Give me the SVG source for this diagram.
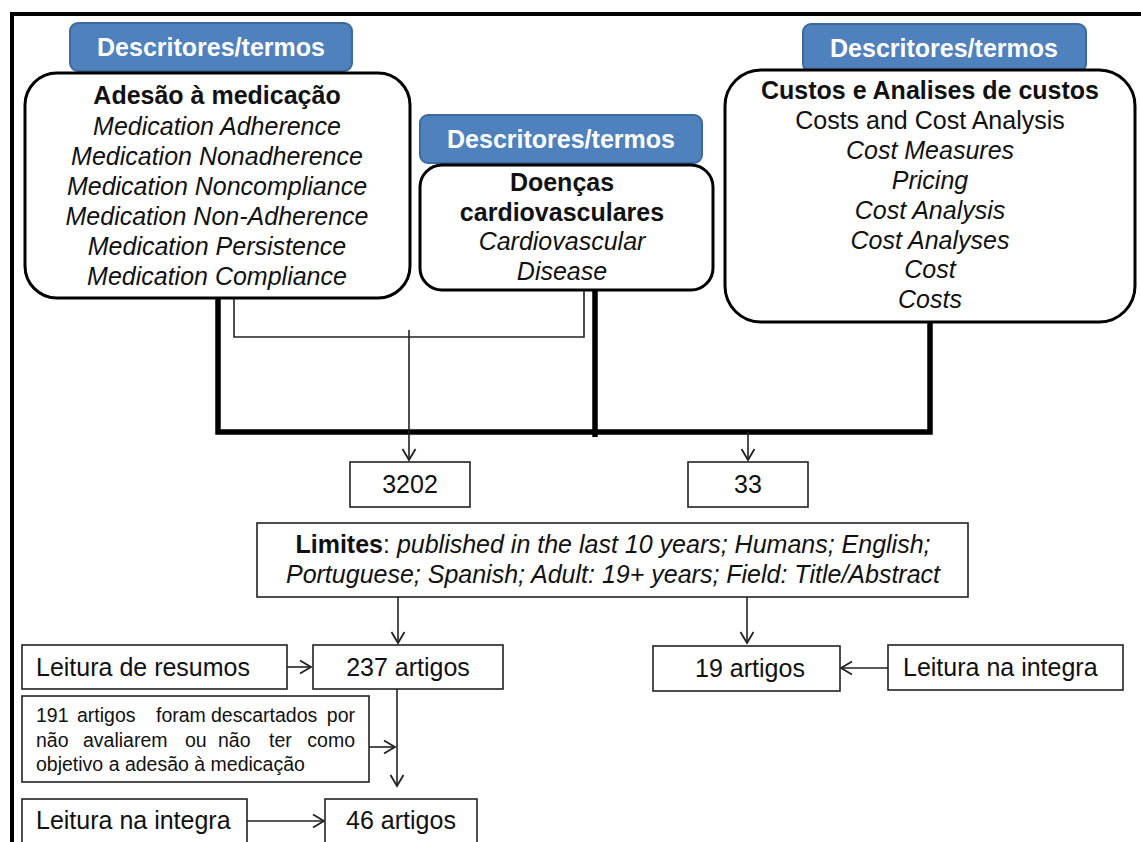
<svg xmlns="http://www.w3.org/2000/svg" width="1141" height="842" viewBox="0 0 1141 842">
<defs>
<style>
text{font-family:"Liberation Sans",Arial,sans-serif;fill:#111;}
.t{font-size:25px;}
.c{text-anchor:middle;}
.b{font-weight:bold;}
.i{font-style:italic;}
.s{font-size:19.5px;}
.tab{fill:#4F81BD;stroke:#3C6A9E;stroke-width:2;}
.tabt{fill:#fff;font-weight:bold;font-size:25px;text-anchor:middle;}
.rbox{fill:#fff;stroke:#000;stroke-width:3;}
.box{fill:#fff;stroke:#222;stroke-width:1.6;}
.thick{fill:none;stroke:#000;stroke-width:5.5;stroke-linejoin:miter;}
.thin{fill:none;stroke:#222;stroke-width:1.6;}
.arr{fill:none;stroke:#222;stroke-width:1.6;marker-end:url(#ah);}
</style>
<marker id="ah" viewBox="-13 -8 15 16" refX="0" refY="0" markerWidth="15" markerHeight="16" markerUnits="userSpaceOnUse" orient="auto">
<path d="M-11,-6.5 L0,0 L-11,6.5" fill="none" stroke="#222" stroke-width="1.8"/>
</marker>
</defs>
<rect x="0" y="0" width="1141" height="842" fill="#fff"/>
<path d="M12,844 V14 H1143" fill="none" stroke="#000" stroke-width="4"/>

<g id="connectors">
<path class="thin" d="M234,298 V337 H584 V290"/>
<path class="thick" d="M218,298 V432 H930 V322"/>
<path class="thick" d="M595,290 V437"/>
<path class="arr" d="M409,330 V460"/>
<path class="arr" d="M748,432 V460"/>
<path class="arr" d="M398,597 V643"/>
<path class="arr" d="M747,597 V643"/>
<path class="arr" d="M287,667 H311"/>
<path class="arr" d="M397,689 V786"/>
<path class="arr" d="M369,747 H395"/>
<path class="arr" d="M247,821 H324"/>
<path class="arr" d="M888,668 H841"/>
</g>

<g id="node-adesao">
<rect class="tab" x="70" y="23" width="282" height="48" rx="8"/>
<text class="tabt" x="211" y="56">Descritores/termos</text>
<rect class="rbox" x="25" y="73" width="385" height="225" rx="32"/>
<text class="t c b" x="217" y="104">Adesão à medicação</text>
<text class="t c i" x="217" y="135">Medication Adherence</text>
<text class="t c i" x="217" y="165">Medication Nonadherence</text>
<text class="t c i" x="217" y="195">Medication Noncompliance</text>
<text class="t c i" x="217" y="225">Medication Non-Adherence</text>
<text class="t c i" x="217" y="255">Medication Persistence</text>
<text class="t c i" x="217" y="285">Medication Compliance</text>
</g>

<g id="node-doencas">
<rect class="tab" x="420" y="115" width="282" height="48" rx="8"/>
<text class="tabt" x="561" y="148">Descritores/termos</text>
<rect class="rbox" x="420" y="165" width="293" height="125" rx="22"/>
<text class="t c b" x="562" y="191">Doenças</text>
<text class="t c b" x="562" y="221">cardiovasculares</text>
<text class="t c i" x="562" y="250">Cardiovascular</text>
<text class="t c i" x="562" y="280">Disease</text>
</g>

<g id="node-custos">
<rect class="tab" x="803" y="24" width="283" height="48" rx="8"/>
<text class="tabt" x="944" y="57">Descritores/termos</text>
<rect class="rbox" x="725" y="70" width="410" height="252" rx="36"/>
<text class="t c b" x="930" y="99">Custos e Analises de custos</text>
<text class="t c" x="930" y="129">Costs and Cost Analysis</text>
<text class="t c i" x="930" y="159">Cost Measures</text>
<text class="t c i" x="930" y="189">Pricing</text>
<text class="t c i" x="930" y="219">Cost Analysis</text>
<text class="t c i" x="930" y="249">Cost Analyses</text>
<text class="t c i" x="930" y="278">Cost</text>
<text class="t c i" x="930" y="308">Costs</text>
</g>

<g id="node-3202">
<rect class="box" x="350" y="462" width="120" height="45"/>
<text class="t c" x="410" y="493">3202</text>
</g>

<g id="node-33">
<rect class="box" x="688" y="462" width="120" height="45"/>
<text class="t c" x="748" y="493">33</text>
</g>

<g id="node-limites">
<rect class="box" x="257" y="523" width="711" height="74"/>
<text class="t c" x="613" y="553"><tspan class="b">Limites</tspan>: <tspan class="i">published in the last 10 years; Humans; English;</tspan></text>
<text class="t c i" x="613" y="583">Portuguese; Spanish; Adult: 19+ years; Field: Title/Abstract</text>
</g>

<g id="node-leitura-resumos">
<rect class="box" x="22" y="645" width="265" height="44"/>
<text class="t" x="36" y="676">Leitura de resumos</text>
</g>

<g id="node-237">
<rect class="box" x="313" y="645" width="190" height="44"/>
<text class="t c" x="408" y="676">237 artigos</text>
</g>

<g id="node-191">
<rect class="box" x="22" y="696" width="347" height="86"/>
<text class="s" y="722"><tspan x="36">191</tspan><tspan x="77">artigos</tspan><tspan x="156">foram</tspan><tspan x="211">descartados</tspan><tspan x="355" text-anchor="end">por</tspan></text>
<text class="s" y="747"><tspan x="36">não</tspan><tspan x="83">avaliarem</tspan><tspan x="185">ou</tspan><tspan x="218">não</tspan><tspan x="269">ter</tspan><tspan x="355" text-anchor="end">como</tspan></text>
<text class="s" x="36" y="771">objetivo a adesão à medicação</text>
</g>

<g id="node-leitura-integra-1">
<rect class="box" x="22" y="799" width="225" height="46"/>
<text class="t" x="36" y="829">Leitura na integra</text>
</g>

<g id="node-46">
<rect class="box" x="325" y="799" width="152" height="46"/>
<text class="t c" x="401" y="829">46 artigos</text>
</g>

<g id="node-19">
<rect class="box" x="653" y="646" width="187" height="45"/>
<text class="t c" x="750" y="677">19 artigos</text>
</g>

<g id="node-leitura-integra-2">
<rect class="box" x="888" y="645" width="235" height="45"/>
<text class="t" x="903" y="676">Leitura na integra</text>
</g>
</svg>
